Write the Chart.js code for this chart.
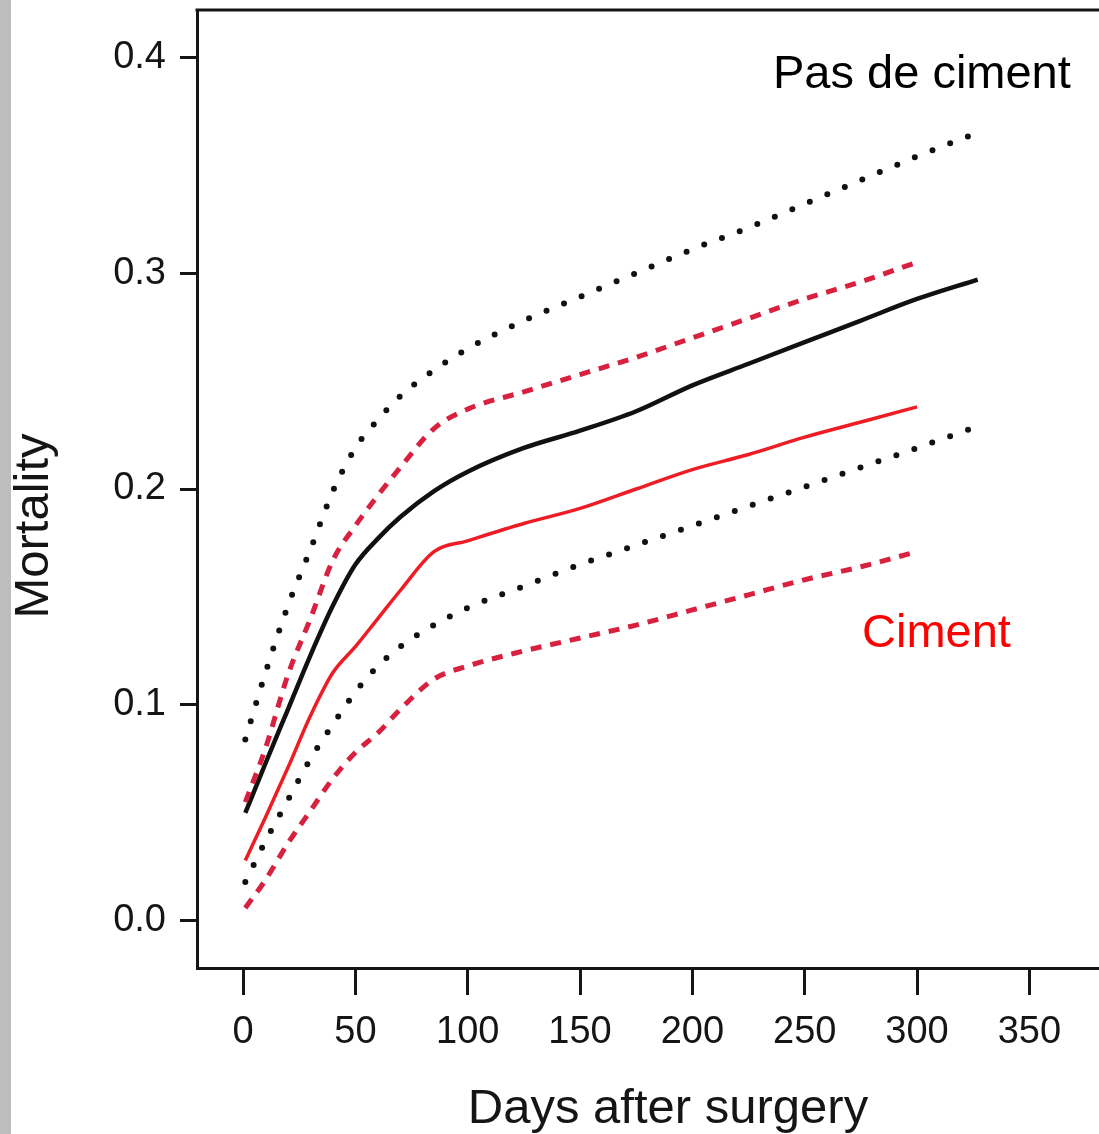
<!DOCTYPE html>
<html>
<head>
<meta charset="utf-8">
<script src="https://cdn.jsdelivr.net/npm/chart.js@4.4.1/dist/chart.umd.min.js"></script>
<style>
  body { margin: 0; background: #fff; }
  #wrap { position: relative; width: 1099px; height: 1134px; }
  #strip { position: absolute; left: 0; top: 0; width: 11px; height: 1134px; background: #bdbdbd; }
  canvas { position: absolute; left: 0; top: 0; }
</style>
</head>
<body>
<div id="wrap">
  <canvas id="chart" width="1099" height="1134"></canvas>
  <div id="strip"></div>
</div>
<script>
// jours après la chirurgie
const days = [1, 10, 20, 30, 40, 50, 60, 70, 85, 100, 125, 150, 175, 200, 225, 250, 275, 300, 327];

// Pas de ciment (noir) : estimation + intervalle
const noCement      = [0.050, 0.073, 0.098, 0.123, 0.146, 0.165, 0.177, 0.187, 0.199, 0.208, 0.219, 0.227, 0.236, 0.248, 0.258, 0.268, 0.278, 0.288, 0.297];
const noCementUpper = [0.084, 0.115, 0.146, 0.172, 0.199, 0.219, 0.232, 0.243, 0.255, 0.265, 0.278, 0.289, 0.300, 0.311, 0.321, 0.332, 0.343, 0.354, 0.365];
const noCementLower = [0.018, 0.037, 0.056, 0.075, 0.091, 0.106, 0.118, 0.127, 0.137, 0.145, 0.155, 0.165, 0.174, 0.183, 0.192, 0.201, 0.210, 0.219, 0.229];

// Ciment (rouge) : s'arrête à 300 jours
const cement      = [0.028, 0.048, 0.071, 0.095, 0.115, 0.127, 0.140, 0.153, 0.171, 0.176, 0.184, 0.191, 0.200, 0.209, 0.216, 0.224, 0.231, 0.238, null];
const cementUpper = [0.055, 0.080, 0.114, 0.140, 0.167, 0.183, 0.197, 0.210, 0.228, 0.237, 0.245, 0.253, 0.261, 0.270, 0.279, 0.288, 0.296, 0.305, null];
const cementLower = [0.006, 0.019, 0.036, 0.051, 0.066, 0.078, 0.087, 0.098, 0.112, 0.118, 0.125, 0.131, 0.137, 0.144, 0.151, 0.158, 0.164, 0.171, null];

const xTicks = [0, 50, 100, 150, 200, 250, 300, 350];
const yTicks = [0.0, 0.1, 0.2, 0.3, 0.4];

const FONT = '"Liberation Sans", Arial, Helvetica, sans-serif';
const INK = '#151515';

function points(vals) {
    return days.map((d, i) => ({ x: d, y: vals[i] })).filter(p => p.y !== null);
}

function dotted(label, vals) {
    return {
        label, data: points(vals),
        borderColor: '#111', borderWidth: 6,
        borderDash: [0, 19], borderCapStyle: 'round',
        pointRadius: 0, cubicInterpolationMode: 'monotone'
    };
}

function dashed(label, vals) {
    return {
        label, data: points(vals),
        borderColor: '#d8203f', borderWidth: 5,
        borderDash: [11, 9], borderCapStyle: 'butt',
        pointRadius: 0, cubicInterpolationMode: 'monotone'
    };
}

// cadre du haut + textes
const extras = {
    id: 'extras',
    afterDraw(chart) {
        const { ctx, chartArea } = chart;
        ctx.save();
        ctx.strokeStyle = INK;
        ctx.lineWidth = 3;
        ctx.beginPath();
        ctx.moveTo(chartArea.left - 1.5, chartArea.top);
        ctx.lineTo(chart.width, chartArea.top);
        ctx.stroke();

        ctx.font = '47px ' + FONT;
        ctx.textBaseline = 'alphabetic';
        ctx.fillStyle = '#000';
        ctx.fillText('Pas de ciment', 773, 88);
        ctx.fillStyle = '#ff0000';
        ctx.fillText('Ciment', 862, 647);

        ctx.font = '49px ' + FONT;
        ctx.fillStyle = INK;
        ctx.textAlign = 'center';
        ctx.fillText('Days after surgery', 668, 1123);
        ctx.translate(48, 526);
        ctx.rotate(-Math.PI / 2);
        ctx.fillText('Mortality', 0, 0);
        ctx.restore();
    }
};

new Chart(document.getElementById('chart'), {
    type: 'line',
    data: {
        datasets: [
            dotted('Pas de ciment sup.', noCementUpper),
            dotted('Pas de ciment inf.', noCementLower),
            dashed('Ciment sup.', cementUpper),
            dashed('Ciment inf.', cementLower),
            {
                label: 'Pas de ciment', data: points(noCement),
                borderColor: '#111', borderWidth: 4.5,
                pointRadius: 0, cubicInterpolationMode: 'monotone'
            },
            {
                label: 'Ciment', data: points(cement),
                borderColor: '#ee1c24', borderWidth: 3.5,
                pointRadius: 0, cubicInterpolationMode: 'monotone'
            }
        ]
    },
    options: {
        responsive: false,
        animation: false,
        layout: { padding: { top: 10, left: 0, right: 0, bottom: 0 } },
        plugins: { legend: { display: false }, tooltip: { enabled: false } },
        scales: {
            x: {
                type: 'linear', min: -20.5, max: 381,
                afterBuildTicks: s => { s.ticks = xTicks.map(v => ({ value: v })); },
                afterFit: s => { s.height = 166; s.paddingLeft = 0; s.paddingRight = 0; },
                border: { display: true, color: INK, width: 3 },
                grid: { drawOnChartArea: false, drawTicks: true, tickLength: 27, color: INK, lineWidth: 3 },
                ticks: { color: INK, font: { family: FONT, size: 38 }, padding: 15, maxRotation: 0 }
            },
            y: {
                type: 'linear', min: -0.0218, max: 0.4218,
                afterBuildTicks: s => { s.ticks = yTicks.map(v => ({ value: v })); },
                afterFit: s => { s.width = 197; s.paddingTop = 0; s.paddingBottom = 0; },
                border: { display: true, color: INK, width: 3 },
                grid: { drawOnChartArea: false, drawTicks: true, tickLength: 17, color: INK, lineWidth: 3 },
                ticks: { color: INK, font: { family: FONT, size: 38 }, padding: 14, callback: v => v.toFixed(1) }
            }
        }
    },
    plugins: [extras]
});
</script>
</body>
</html>
